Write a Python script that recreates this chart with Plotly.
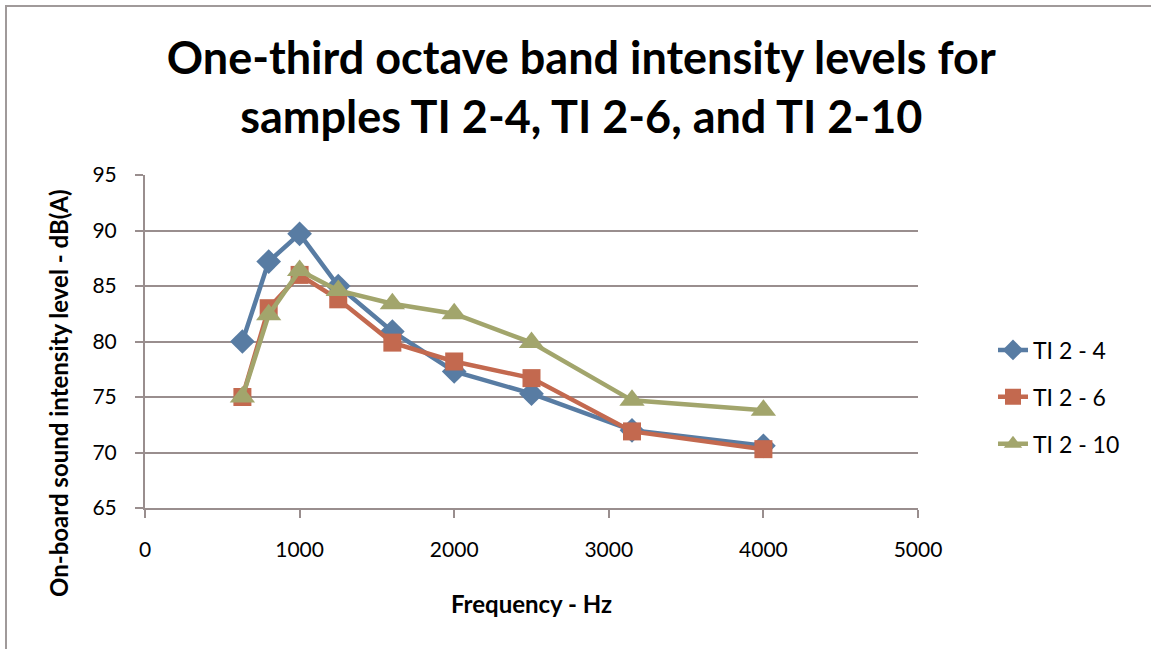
import plotly.graph_objects as go

freq = [630, 800, 1000, 1250, 1600, 2000, 2500, 3150, 4000]
ti_2_4 = [80.0, 87.2, 89.7, 85.0, 80.9, 77.3, 75.3, 72.0, 70.6]
ti_2_6 = [75.0, 83.0, 86.0, 83.8, 79.9, 78.2, 76.7, 71.9, 70.3]
ti_2_10 = [75.0, 82.4, 86.4, 84.6, 83.4, 82.5, 79.9, 74.7, 73.8]
series_names = ["TI 2 - 4", "TI 2 - 6", "TI 2 - 10"]
x_ticks = [0, 1000, 2000, 3000, 4000, 5000]
y_ticks = [65, 70, 75, 80, 85, 90, 95]

colors = ["#587CA3", "#C3694F", "#A2A56C"]
symbols = ["diamond", "square", "triangle-up"]
sizes = [19, 18, 22]

FONT = "Lato"
GRID = "#998E8E"
fig = go.Figure()
for i, (name, ys, c, s, sz) in enumerate(zip(series_names, [ti_2_4, ti_2_6, ti_2_10], colors, symbols, sizes)):
    fig.add_trace(go.Scatter(
        x=freq, y=ys, name=name, mode="lines+markers", legendgroup=f"g{i}",
        line=dict(color=c, width=4.5),
        marker=dict(symbol=s, size=sz, color=c),
    ))

L, R, T, B = 145, 1151 - 918, 175, 649 - 508
W, H = 1151, 649
pw, ph = W - L - R, H - T - B

def px_x(px):
    return (px - L) / pw

def px_y(py):
    return (H - B - py) / ph

fig.update_layout(
    width=W, height=H,
    margin=dict(l=L, r=R, t=T, b=B),
    paper_bgcolor="white", plot_bgcolor="white",
    font=dict(family=FONT, size=21, color="black"),
    title=dict(
        text="One-third octave band intensity levels for<br>samples TI 2-4, TI 2-6, and TI 2-10",
        x=0.505, xanchor="center", y=1 - 74 / H, yanchor="middle",
        font=dict(family=FONT, size=45, color="black", weight="bold"),
    ),
    xaxis=dict(
        range=[0, 5000], tickvals=x_ticks, showgrid=False,
        showline=True, linecolor=GRID, linewidth=2,
        ticks="outside", ticklen=8, tickcolor=GRID, tickwidth=2,
        zeroline=False, ticklabelstandoff=14,
        tickfont=dict(size=21),
    ),
    yaxis=dict(
        range=[65, 95], tickvals=y_ticks, showgrid=True,
        gridcolor=GRID, gridwidth=2,
        showline=True, linecolor=GRID, linewidth=2,
        ticks="outside", ticklen=8, tickcolor=GRID, tickwidth=2,
        zeroline=False, ticklabelstandoff=14,
        tickfont=dict(size=21),
    ),
    legend=dict(
        x=px_x(993), y=px_y(397), xanchor="left", yanchor="middle",
        font=dict(size=23), tracegroupgap=14, itemsizing="trace",
        bgcolor="rgba(0,0,0,0)",
    ),
    showlegend=True,
)

fig.add_annotation(
    text="<b>On-board sound intensity level - dB(A)</b>", textangle=-90,
    xref="paper", yref="paper", x=px_x(58), y=px_y(393),
    xanchor="center", yanchor="middle", showarrow=False,
    font=dict(family=FONT, size=24, color="black"),
)
fig.add_annotation(
    text="<b>Frequency - Hz</b>",
    xref="paper", yref="paper", x=px_x(531), y=px_y(603),
    xanchor="center", yanchor="middle", showarrow=False,
    font=dict(family=FONT, size=24, color="black"),
)

fig.add_shape(
    type="rect", xref="paper", yref="paper",
    x0=px_x(6), x1=px_x(1158),
    y0=px_y(658), y1=px_y(6),
    line=dict(color="#A09A9A", width=2), fillcolor="rgba(0,0,0,0)", layer="below",
)

fig.write_html("out.html")
